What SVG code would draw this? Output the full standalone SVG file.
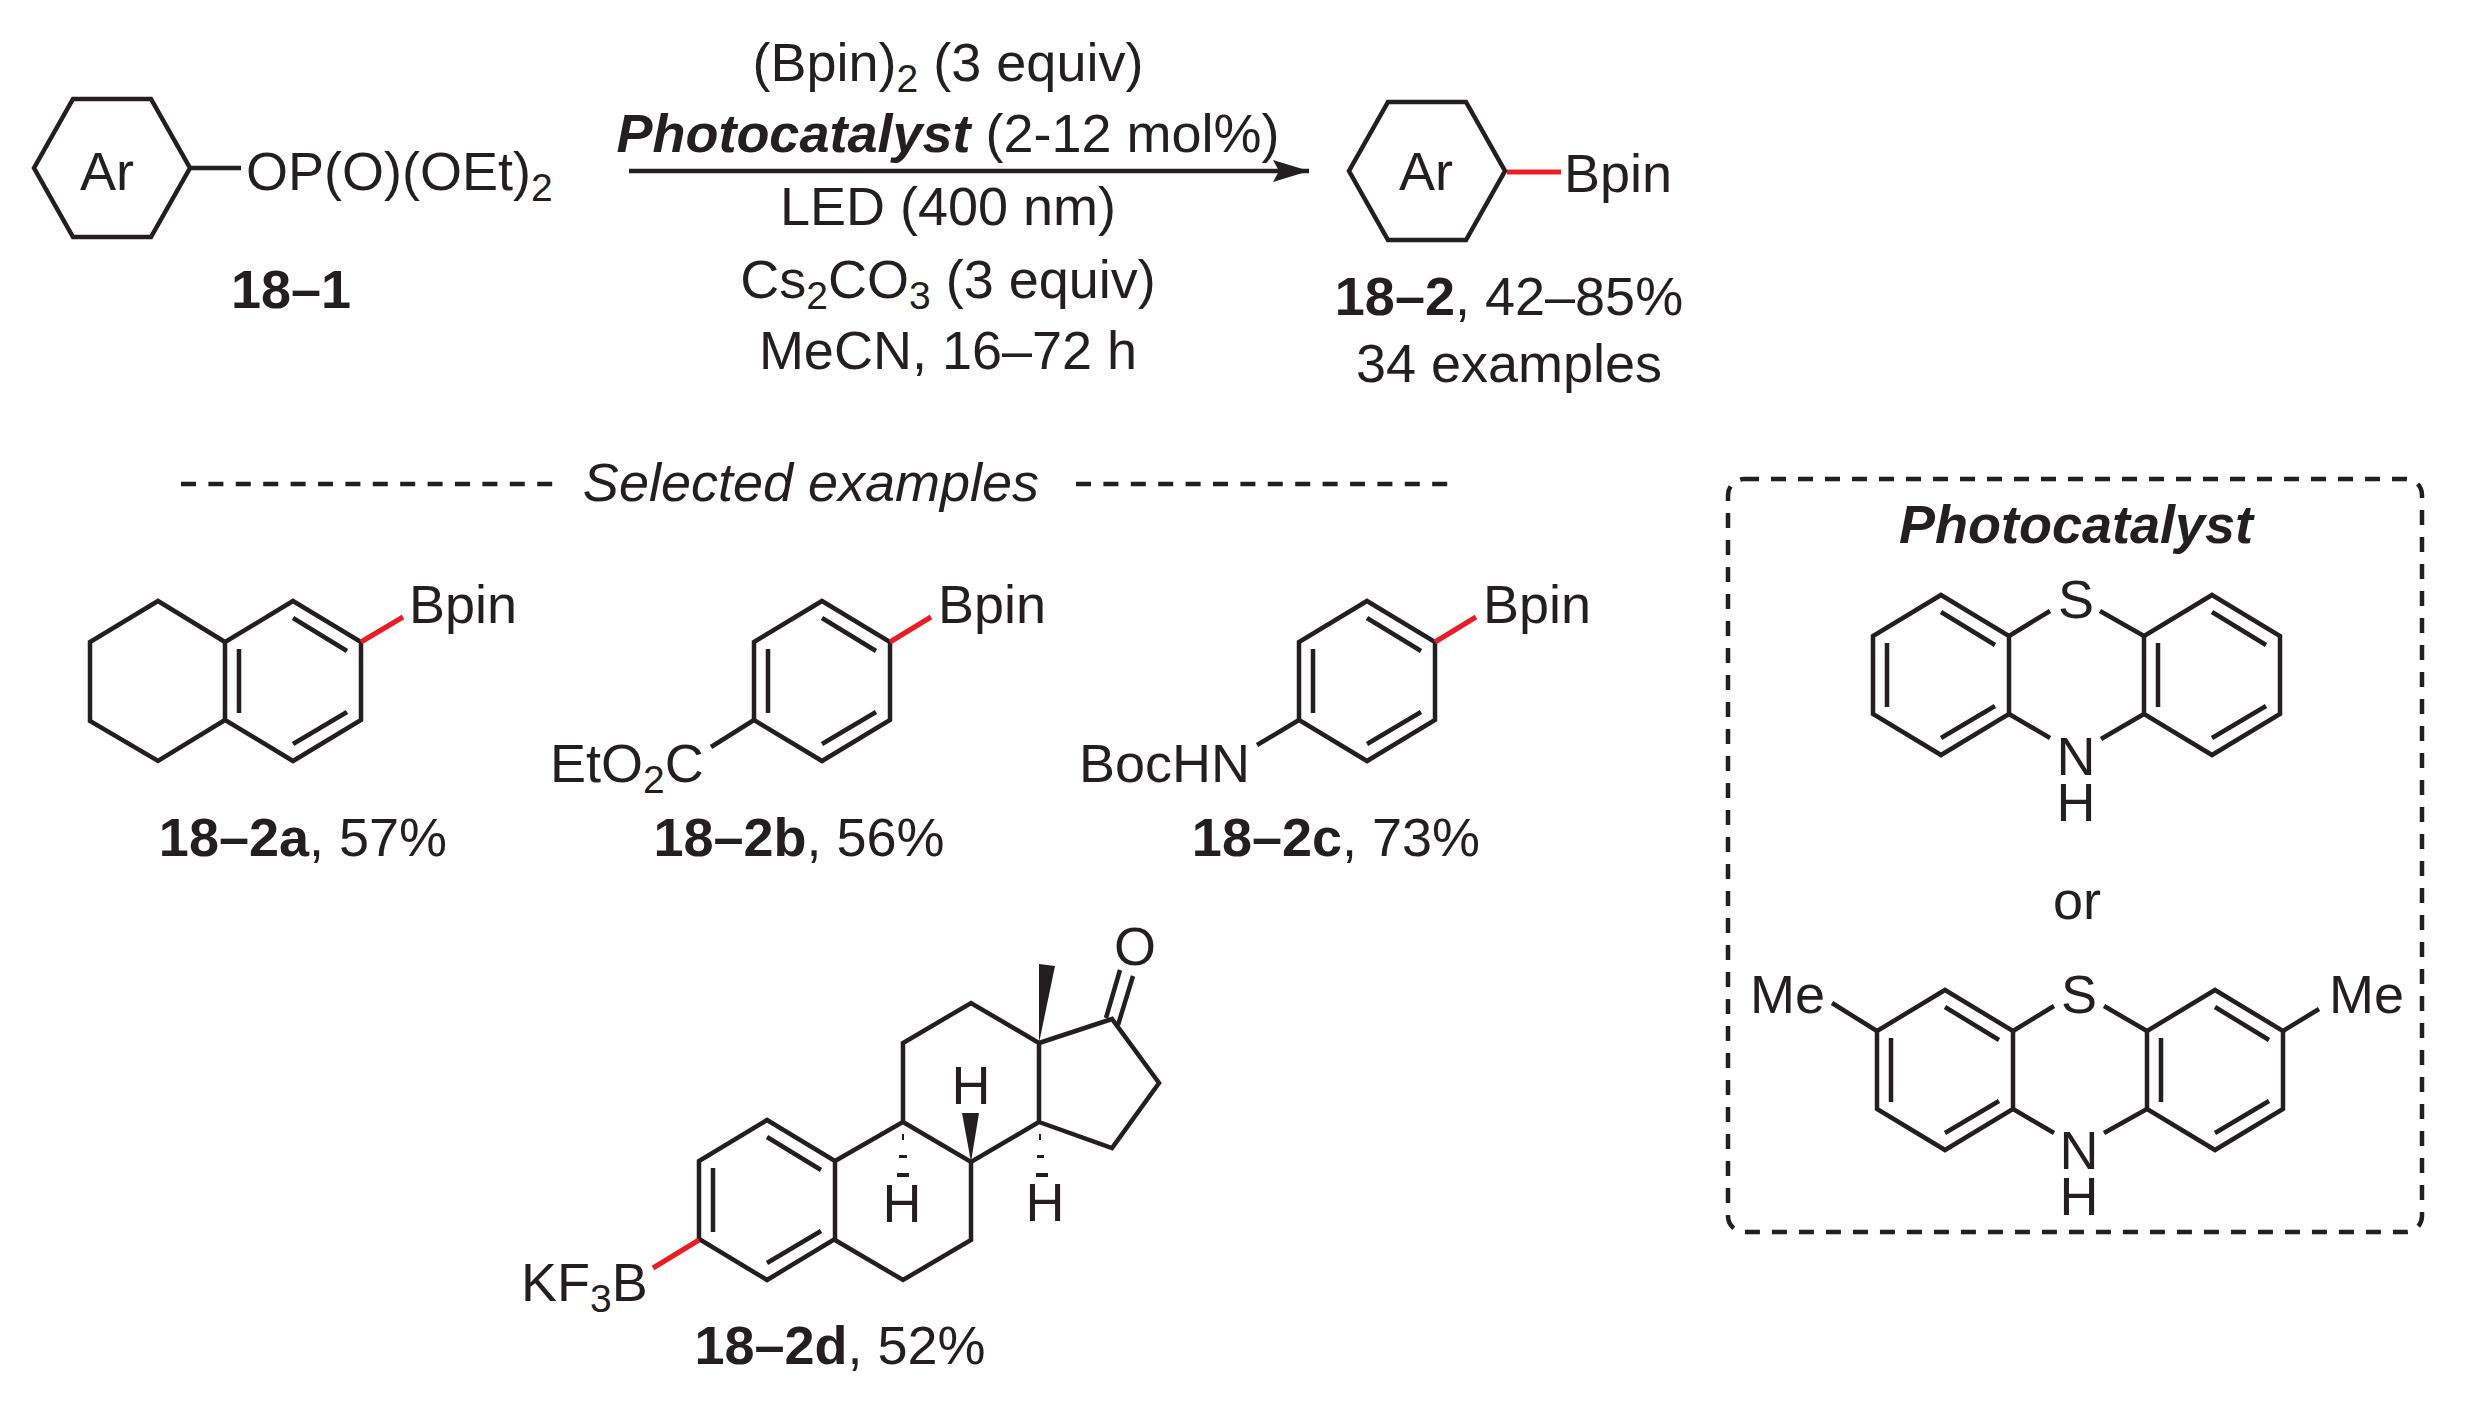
<svg xmlns="http://www.w3.org/2000/svg" xmlns:xlink="http://www.w3.org/1999/xlink" width="2475" height="1406" viewBox="0 0 2475 1406">
<style>
text{font-family:"Liberation Sans",Arial,sans-serif;font-size:54px;fill:#231f20}
.m{text-anchor:middle}
.b{font-weight:bold}
.i{font-style:italic}
.bi{font-weight:bold;font-style:italic}
.s{font-size:39px}
.bond{fill:none;stroke:#231f20;stroke-width:4.5;stroke-linejoin:miter;stroke-linecap:butt}
.red{fill:none;stroke:#ed1c24;stroke-width:5}
.dash{fill:none;stroke:#231f20;stroke-width:4.5;stroke-dasharray:15 12.4}
.solid{fill:#231f20;stroke:none}
</style>
<defs>
<path id="benz" class="bond" d="M0-80L68-39V39L0 80L-68 39V-39ZM0-63L54-30M-54-32V32M0 63L54 31"/>
<path id="hex" class="bond" d="M-39-69H39L78 0L39 69H-39L-78 0Z"/>
<marker id="arrow" markerUnits="userSpaceOnUse" markerWidth="38" markerHeight="24" refX="36" refY="12" orient="auto"><path d="M0 1L36 12L0 23L6 12Z" fill="#231f20"/></marker>
</defs>
<g id="connectors">
<path id="reaction-arrow" class="bond" d="M629 171H1309" marker-end="url(#arrow)"/>
<path class="dash" d="M181 484H553"/>
<path class="dash" d="M1076 484H1448"/>
</g>
<g id="substrate">
<use xlink:href="#hex" href="#hex" transform="translate(112 168)"/>
<path class="bond" d="M191 168H241"/>
<text x="107" y="190" class="m">Ar</text>
<text x="246" y="190">OP(O)(OEt)<tspan class="s" dy="11">2</tspan></text>
<text x="291" y="308" class="m b">18–1</text>
</g>
<g id="conditions">
<text x="948" y="81" class="m">(Bpin)<tspan class="s" dy="11">2</tspan><tspan dy="-11"> (3 equiv)</tspan></text>
<text x="948" y="152" class="m"><tspan class="bi">Photocatalyst</tspan> (2-12 mol%)</text>
<text x="948" y="225" class="m">LED (400 nm)</text>
<text x="948" y="298" class="m">Cs<tspan class="s" dy="11">2</tspan><tspan dy="-11">CO</tspan><tspan class="s" dy="11">3</tspan><tspan dy="-11"> (3 equiv)</tspan></text>
<text x="948" y="369" class="m">MeCN, 16–72 h</text>
</g>
<g id="product">
<use xlink:href="#hex" href="#hex" transform="translate(1427 171)"/>
<path class="red" d="M1507 172H1561"/>
<text x="1426" y="190" class="m">Ar</text>
<text x="1564" y="192">Bpin</text>
<text x="1509" y="315" class="m"><tspan class="b">18–2</tspan>, 42–85%</text>
<text x="1509" y="382" class="m">34 examples</text>
</g>
<g id="selected-title">
<text x="811" y="501" class="m i">Selected examples</text>
</g>
<g id="ex-18-2a">
<use xlink:href="#benz" href="#benz" x="293" y="681"/>
<path class="bond" d="M225 642L158 601L90 642V721L158 761L225 720"/>
<path class="red" d="M361 642L403 617"/>
<text x="409" y="623">Bpin</text>
<text x="303" y="856" class="m"><tspan class="b">18–2a</tspan>, 57%</text>
</g>
<g id="ex-18-2b">
<use xlink:href="#benz" href="#benz" x="822" y="681"/>
<path class="bond" d="M754 720L711 747"/>
<path class="red" d="M890 642L931 617"/>
<text x="938" y="623">Bpin</text>
<text x="550" y="782">EtO<tspan class="s" dy="11">2</tspan><tspan dy="-11">C</tspan></text>
<text x="799" y="856" class="m"><tspan class="b">18–2b</tspan>, 56%</text>
</g>
<g id="ex-18-2c">
<use xlink:href="#benz" href="#benz" x="1367" y="681"/>
<path class="bond" d="M1299 720L1257 745"/>
<path class="red" d="M1435 642L1476 617"/>
<text x="1483" y="623">Bpin</text>
<text x="1079" y="782">BocHN</text>
<text x="1336" y="856" class="m"><tspan class="b">18–2c</tspan>, 73%</text>
</g>
<g id="ex-18-2d">
<use xlink:href="#benz" href="#benz" x="767" y="1200"/>
<path class="bond" d="M835 1161L903 1122V1043L971 1003L1039 1043V1122L971 1162L903 1122M971 1162V1240L903 1280L835 1240M1039 1043L1112 1019L1159 1083L1112 1148L1039 1122"/>
<path class="bond" d="M1106 1018L1120 970M1118 1025L1133 976"/>
<path class="solid" d="M1039 1043V964L1055 966Z"/>
<path class="solid" d="M971 1162L962 1113H979Z"/>
<path class="solid" d="M902 1134h2v6h-2zM899 1155h8v3h-8zM897 1173h12v4h-12z"/>
<path class="solid" d="M1039 1134h2v6h-2zM1037 1155h7v3h-7zM1036 1173h12v4h-12z"/>
<path class="red" d="M699 1240L653 1268"/>
<text x="971" y="1104" class="m">H</text>
<text x="902" y="1222" class="m">H</text>
<text x="1045" y="1221" class="m">H</text>
<text x="1135" y="965" class="m">O</text>
<text x="521" y="1301">KF<tspan class="s" dy="11">3</tspan><tspan dy="-11">B</tspan></text>
<text x="840" y="1364" class="m"><tspan class="b">18–2d</tspan>, 52%</text>
</g>
<g id="photocatalyst-box">
<rect class="bond" x="1728" y="479" width="694" height="753" rx="16" ry="16" stroke-dasharray="15 12"/>
<text x="2076" y="543" class="m bi">Photocatalyst</text>
<text x="2077" y="919" class="m">or</text>
</g>
<g id="phenothiazine">
<use xlink:href="#benz" href="#benz" x="1941" y="675"/>
<use xlink:href="#benz" href="#benz" x="2212" y="675"/>
<path class="bond" d="M2009 636L2050 611M2144 636L2100 611M2009 714L2050 738M2144 714L2101 739"/>
<text x="2076" y="618" class="m">S</text>
<text x="2076" y="775" class="m">N</text>
<text x="2076" y="821" class="m">H</text>
</g>
<g id="dimethylphenothiazine">
<use xlink:href="#benz" href="#benz" x="1945" y="1070"/>
<use xlink:href="#benz" href="#benz" x="2215" y="1070"/>
<path class="bond" d="M2013 1031L2054 1006M2147 1031L2104 1006M2013 1109L2054 1133M2147 1109L2104 1133M1877 1031L1832 1003M2283 1031L2319 1009"/>
<text x="2079" y="1013" class="m">S</text>
<text x="2079" y="1169" class="m">N</text>
<text x="2079" y="1215" class="m">H</text>
<text x="1750" y="1013">Me</text>
<text x="2329" y="1013">Me</text>
</g>
</svg>
